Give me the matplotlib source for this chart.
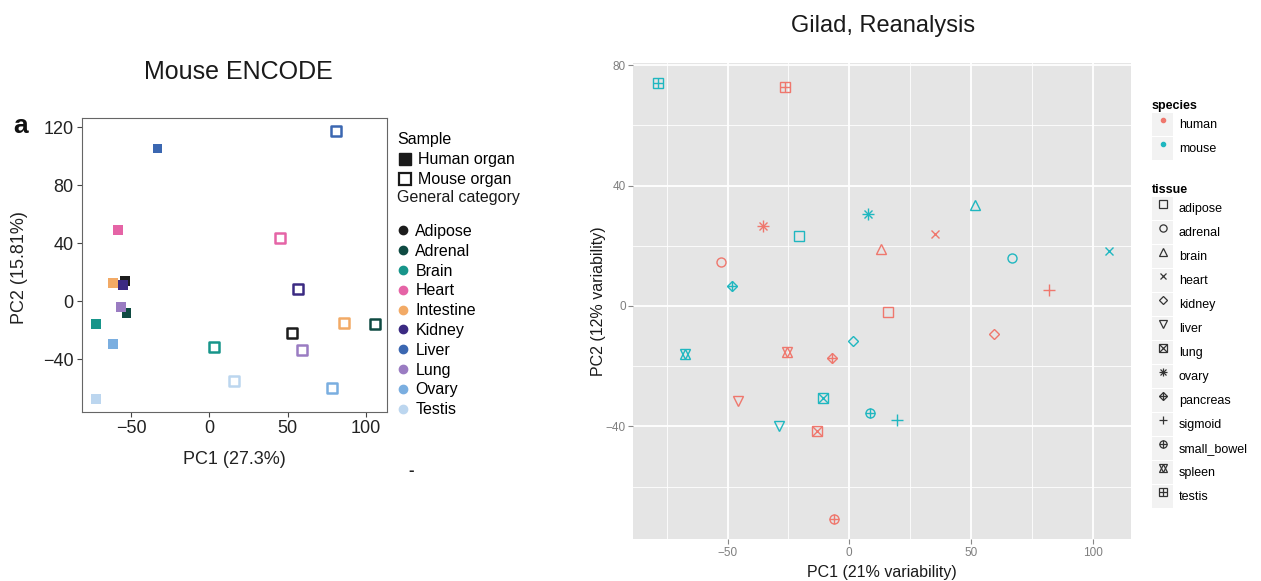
import matplotlib
matplotlib.use("Agg")
import matplotlib.pyplot as plt
from matplotlib.lines import Line2D
from matplotlib.patches import Rectangle
from matplotlib.ticker import MultipleLocator

plt.rcParams['font.family'] = ['Liberation Sans', 'DejaVu Sans']

# ---- left panel: Mouse ENCODE ----
organs = ['Adipose', 'Adrenal', 'Brain', 'Heart', 'Intestine', 'Kidney',
          'Liver', 'Lung', 'Ovary', 'Testis']
organ_colors = ['#1c1c1c', '#0f4a42', '#17958a', '#e564a6', '#f2aa66',
                '#3b2a82', '#3b67b1', '#9a7cc2', '#7aaee0', '#bcd6ef']
human_pc1 = [-53.9, -52.8, -72.4, -58.5, -61.4, -55.0, -33.0, -56.3, -61.7, -72.4]
human_pc2 = [13.9, -8.4, -16.0, 49.1, 12.3, 11.1, 105.5, -3.9, -29.8, -67.6]
mouse_pc1 = [52.7, 105.7, 3.2, 45.2, 86.3, 56.5, 81.0, 59.4, 78.6, 16.0]
mouse_pc2 = [-22.2, -16.0, -31.5, 43.8, -14.9, 8.1, 117.5, -33.8, -60.2, -55.2]

# ---- right panel: Gilad, Reanalysis ----
tissues = ['adipose', 'adrenal', 'brain', 'heart', 'kidney', 'liver', 'lung',
           'ovary', 'pancreas', 'sigmoid', 'small_bowel', 'spleen', 'testis']
g_human_pc1 = [15.9, -52.7, 13.0, 35.4, 59.3, -45.6, -13.2, -35.5, -7.2, 82.1, -6.2, -25.5, -26.4]
g_human_pc2 = [-2.1, 14.6, 18.8, 23.9, -9.3, -31.5, -41.4, 26.6, -17.4, 5.2, -70.9, -15.2, 72.7]
g_mouse_pc1 = [-20.5, 67.0, 51.5, 106.9, 1.6, -28.9, -10.7, 7.7, -48.1, 19.7, 8.4, -67.5, -78.8]
g_mouse_pc2 = [23.3, 15.9, 33.4, 18.2, -11.6, -39.9, -30.7, 30.6, 6.6, -37.9, -35.4, -15.9, 73.9]
species = ['human', 'mouse']
species_colors = ['#ef776d', '#1fb7c0']

# ggplot-like shapes built from overlaid matplotlib markers
shapes = {
    'adipose': [('s', 6.5)],
    'adrenal': [('o', 6.5)],
    'brain': [('^', 7.5)],
    'heart': [('x', 6)],
    'kidney': [('D', 5.5)],
    'liver': [('v', 7.5)],
    'lung': [('s', 6.5), ('x', 6.5)],
    'ovary': [('+', 8), ('x', 6)],
    'pancreas': [('D', 5.5), ('+', 7.8)],
    'sigmoid': [('+', 8)],
    'small_bowel': [('o', 6.5), ('+', 6.5)],
    'spleen': [('^', 7.5), ('v', 7.5)],
    'testis': [('s', 6.5), ('+', 6.5)],
}

fig = plt.figure(figsize=(12.61, 5.81), dpi=100)

# left axes
ax1 = fig.add_axes([0.0648, 0.2914, 0.2419, 0.5060])
ax1.scatter(human_pc1, human_pc2, marker='s', s=48, c=organ_colors, linewidths=0, zorder=3)
ax1.scatter(mouse_pc1, mouse_pc2, marker='s', s=52, facecolors='none',
            edgecolors=organ_colors, linewidths=1.8, zorder=3)
ax1.set_xlim(-81.5, 113.4)
ax1.set_ylim(-76.4, 126.7)
ax1.set_xticks([-50, 0, 50, 100])
ax1.set_yticks([-40, 0, 40, 80, 120])
ax1.set_xticklabels(['\u221250', '0', '50', '100'])
ax1.set_yticklabels(['\u221240', '0', '40', '80', '120'])
ax1.tick_params(labelsize=13, length=3.5, width=0.8, color='#444444',
                labelcolor='#222222', pad=2.5)
for sp in ax1.spines.values():
    sp.set_color('#666666')
    sp.set_linewidth(0.8)
ax1.set_xlabel('PC1 (27.3%)', fontsize=13, color='#222222', labelpad=10)
ax1.set_ylabel('PC2 (15.81%)', fontsize=13, color='#222222')
ax1.yaxis.set_label_coords(-0.177, 0.49)

fig.text(238 / 1261, 1 - 72 / 581, 'Mouse ENCODE', fontsize=18, ha='center',
         va='center', color='#1a1a1a')
fig.text(21 / 1261, 1 - 126 / 581, 'a', fontsize=19, fontweight='bold',
         ha='center', va='center', color='#111111')
fig.text(411 / 1261, 1 - 471 / 581, '-', fontsize=12, fontweight='bold',
         ha='center', va='center', color='#222222')

# left legends
sample_handles = [
    Line2D([], [], ls='none', marker='s', ms=9, mfc='#1a1a1a', mec='#1a1a1a'),
    Line2D([], [], ls='none', marker='s', ms=8.5, mfc='none', mec='#1a1a1a', mew=1.6),
]
leg1 = fig.legend(sample_handles, ['Human organ', 'Mouse organ'], title='Sample',
                  loc='upper left', bbox_to_anchor=(397 / 1261, 1 - 132 / 581),
                  frameon=False, fontsize=11.5, title_fontsize=11.5,
                  handlelength=1.0, handletextpad=0.3, labelspacing=0.32,
                  borderpad=0, borderaxespad=0, alignment='left')
fig.text(397 / 1261, 1 - 198 / 581, 'General category', fontsize=11.5,
         ha='left', va='center', color='#1a1a1a')
cat_handles = [Line2D([], [], ls='none', marker='o', ms=6, mfc=c, mec=c)
               for c in organ_colors]
leg2 = fig.legend(cat_handles, organs, loc='upper left',
                  bbox_to_anchor=(397 / 1261, 1 - 224 / 581),
                  frameon=False, fontsize=11.5,
                  handlelength=0.8, handletextpad=0.35, labelspacing=0.30,
                  borderpad=0, borderaxespad=0)

# right axes
ax2 = fig.add_axes([0.5022, 0.0718, 0.3947, 0.8203])
ax2.set_facecolor('#e5e5e5')
for sname, col, xs, ys in zip(species, species_colors,
                              [g_human_pc1, g_mouse_pc1], [g_human_pc2, g_mouse_pc2]):
    for t, x, y in zip(tissues, xs, ys):
        for m, ms in shapes[t]:
            ax2.plot([x], [y], ls='none', marker=m, ms=ms, mfc='none', mec=col,
                     mew=1.0, zorder=3)
ax2.set_xlim(-88.8, 115.8)
ax2.set_ylim(-77.5, 80.8)
ax2.xaxis.set_major_locator(MultipleLocator(50))
ax2.xaxis.set_minor_locator(MultipleLocator(25))
ax2.yaxis.set_major_locator(MultipleLocator(40))
ax2.yaxis.set_minor_locator(MultipleLocator(20))
ax2.grid(which='major', color='white', linewidth=1.3)
ax2.grid(which='minor', color='white', linewidth=0.6)
ax2.set_axisbelow(True)
for sp in ax2.spines.values():
    sp.set_visible(False)
ax2.tick_params(which='major', labelsize=8.5, length=3.5, width=0.8,
                color='#888888', labelcolor='#7f7f7f', pad=2)
ax2.tick_params(which='minor', length=0)
ax2.set_xlabel('PC1 (21% variability)', fontsize=11.5, color='#1a1a1a', labelpad=4.5)
ax2.set_ylabel('PC2 (12% variability)', fontsize=11.5, color='#1a1a1a', labelpad=0)

fig.text(883 / 1261, 1 - 26 / 581, 'Gilad, Reanalysis', fontsize=17, ha='center',
         va='center', color='#1a1a1a')

# right legends with grey key boxes
def keybox():
    return Rectangle((0, 0), 1, 1, facecolor='#f2f2f2', edgecolor='none')

legend_kw = dict(loc='upper left', frameon=False, fontsize=9,
                 title_fontproperties={'weight': 'bold', 'size': 9},
                 handlelength=1.7, handleheight=2.5, handletextpad=0.45,
                 labelspacing=0.05, borderpad=0, borderaxespad=0, alignment='left')

sp_handles = [(keybox(), Line2D([], [], ls='none', marker='o', ms=3, mfc=c, mec=c))
              for c in species_colors]
leg3 = fig.legend(sp_handles, species, title='species',
                  bbox_to_anchor=(1152 / 1261, 1 - 100 / 581), **legend_kw)

ts_handles = []
for t in tissues:
    parts = [keybox()]
    for m, ms in shapes[t]:
        parts.append(Line2D([], [], ls='none', marker=m, ms=ms * 0.8, mfc='none',
                            mec='#333333', mew=0.9))
    ts_handles.append(tuple(parts))
leg4 = fig.legend(ts_handles, tissues, title='tissue',
                  bbox_to_anchor=(1152 / 1261, 1 - 184 / 581), **legend_kw)

fig.savefig('out.png', dpi=100, facecolor='white')
